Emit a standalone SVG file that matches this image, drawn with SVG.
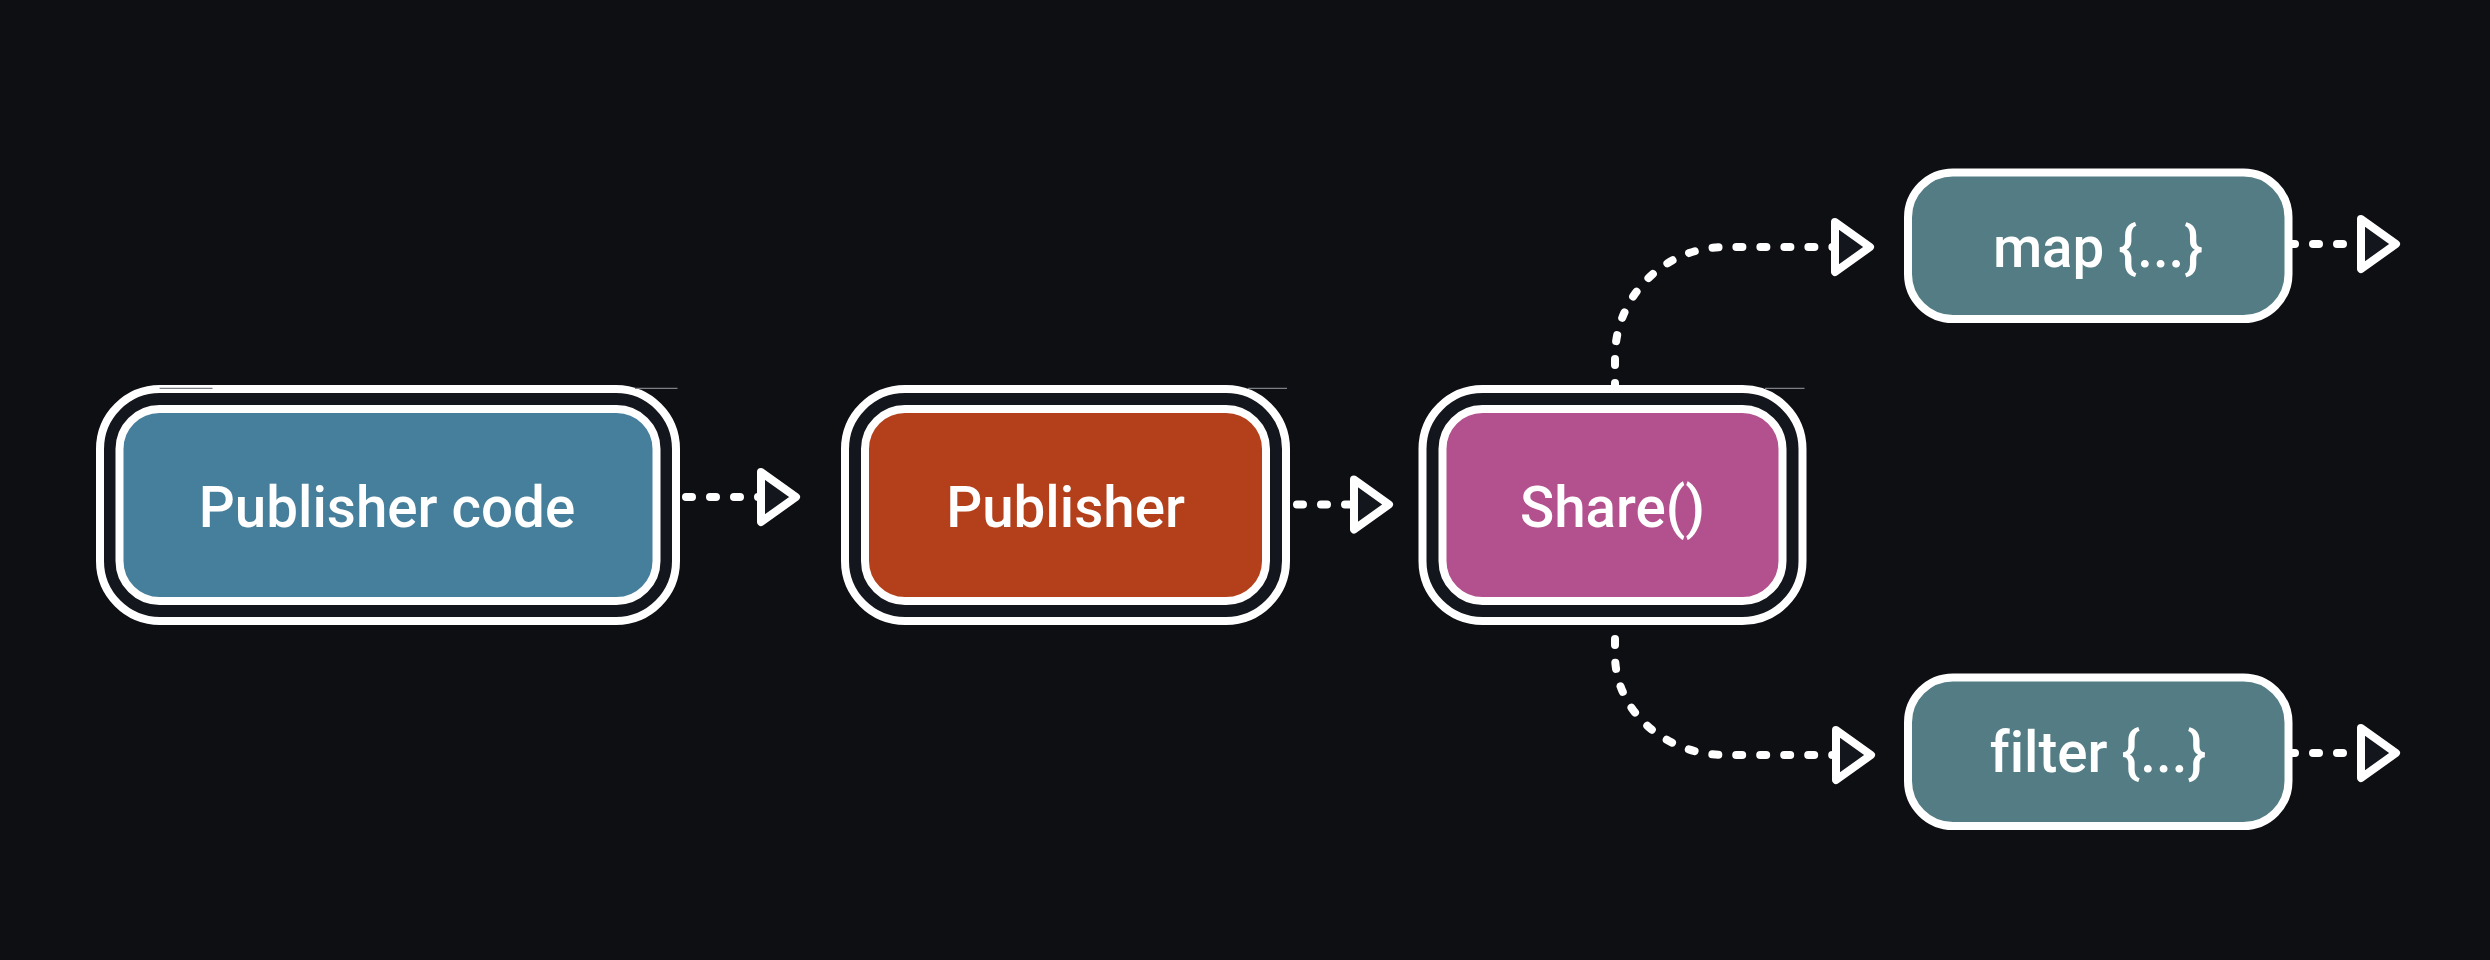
<svg xmlns="http://www.w3.org/2000/svg" width="2490" height="960" viewBox="0 0 2490 960">
<defs>
<style>
.bg{fill:#0e0f13}
.outer{fill:#13161d;stroke:#ffffff;stroke-width:8}
.inner{stroke:#ffffff;stroke-width:8}
.single{stroke:#ffffff;stroke-width:8;fill:#537c84}
.label{font-family:Roboto,"Liberation Sans",Arial,sans-serif;font-weight:500;font-size:56.5px;fill:#ffffff;text-anchor:middle;font-variant-ligatures:none}
.conn{fill:none;stroke:#ffffff;stroke-width:8;stroke-linecap:round;stroke-dasharray:6 18;marker-end:url(#arrow)}
.hair{stroke:#7c7f86;stroke-width:1.2;fill:none}
</style>
<marker id="arrow" markerUnits="userSpaceOnUse" viewBox="-8 -33 52 66" markerWidth="52" markerHeight="66" refX="0" refY="0" orient="auto" overflow="visible">
<path d="M0,-25 L35,0 L0,25 Z" fill="#13161d" stroke="#ffffff" stroke-width="8" stroke-linejoin="round" stroke-dasharray="none"/>
</marker>
</defs>
<rect class="bg" x="0" y="0" width="2490" height="960"/>

<g id="connectors">
<path class="conn" d="M686,497 H761"/>
<path class="conn" d="M1297,504.5 H1354"/>
<path class="conn" d="M1615,389 V357 A110,110 0 0 1 1725,247 H1835"/>
<path class="conn" d="M1615,639 V655 A110,100 0 0 0 1725,755 H1836"/>
<path class="conn" d="M2289,244 H2361"/>
<path class="conn" d="M2289,753 H2361"/>
</g>

<g id="node-publisher-code">
<rect class="outer" x="100" y="389" width="576" height="232" rx="60" ry="60"/>
<rect class="inner" x="119.5" y="409" width="537" height="192" rx="40" ry="40" fill="#467f9c"/>
<line class="hair" x1="159.6" y1="388.3" x2="212.5" y2="388.3"/>
<line class="hair" x1="635" y1="388.3" x2="677.5" y2="388.3"/>
<text class="label" x="387" y="527">Publisher code</text>
</g>

<g id="node-publisher">
<rect class="outer" x="845" y="389" width="441" height="232" rx="60" ry="60"/>
<rect class="inner" x="865" y="409" width="401" height="192" rx="40" ry="40" fill="#b3401b"/>
<line class="hair" x1="1248" y1="388.3" x2="1287" y2="388.3"/>
<text class="label" x="1065.5" y="527">Publisher</text>
</g>

<g id="node-share">
<rect class="outer" x="1422.5" y="389" width="380" height="232" rx="60" ry="60"/>
<rect class="inner" x="1442.5" y="409" width="340" height="192" rx="40" ry="40" fill="#b3508e"/>
<line class="hair" x1="1765" y1="388.3" x2="1804.5" y2="388.3"/>
<text class="label" x="1612.5" y="527">Share()</text>
</g>

<g id="node-map">
<rect class="single" x="1908" y="172.5" width="380.5" height="146.5" rx="45" ry="45"/>
<text class="label" x="2098" y="267">map {...}</text>
</g>

<g id="node-filter">
<rect class="single" x="1908" y="677.5" width="380.5" height="148.5" rx="45" ry="45"/>
<text class="label" x="2098" y="772">filter {...}</text>
</g>
</svg>
